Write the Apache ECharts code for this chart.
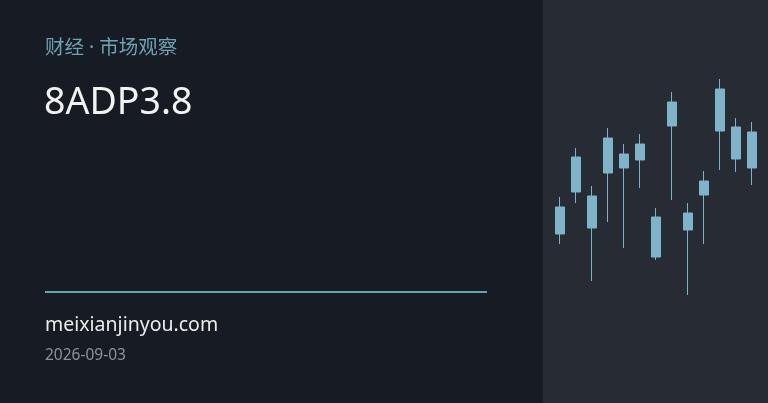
<!DOCTYPE html>
<html>
<head>
    <meta charset="utf-8">
    <title>8ADP3.8</title>
    <script src="https://cdn.jsdelivr.net/npm/echarts@6.0.0/dist/echarts.min.js"></script>
    <style>
        html, body { margin: 0; padding: 0; background: #171b23; }
        #chart { width: 768px; height: 403px; }
    </style>
</head>
<body>
<div id="chart"></div>
<script>
    // 13 根K线，颜色统一，数值单位为图上读取的相对价位
    var days = ['1', '2', '3', '4', '5', '6', '7', '8', '9', '10', '11', '12', '13'];
    var opens  = [76, 118, 82, 137, 142, 150, 53, 184, 80, 115, 179, 151, 142];
    var closes = [103, 153, 114, 172, 156, 166, 93, 208, 97, 129, 221, 183, 178];
    var lows   = [66, 107, 29, 88, 62, 122, 50, 110, 15, 66, 140, 138, 125];
    var highs  = [113, 162, 124, 182, 166, 176, 102, 218, 107, 139, 231, 192, 188];

    var kData = days.map(function (d, i) {
        return [opens[i], closes[i], lows[i], highs[i]];
    });

    var font = "'Noto Sans', 'Noto Sans CJK SC', sans-serif";
    var candleColor = '#7fb3c9';

    var chart = echarts.init(document.getElementById('chart'));

    var option = {
        backgroundColor: '#171b23',
        animation: false,
        graphic: [{
            type: 'rect',
            left: 543,
            top: 0,
            z: -10,
            shape: { width: 225, height: 403 },
            style: { fill: '#272b33' }
        }, {
            type: 'rect',
            left: 45,
            top: 291,
            shape: { width: 442, height: 2 },
            style: { fill: '#6aa2b0' }
        }],
        title: [{
            text: '财经 · 市场观察',
            left: 45,
            top: 39,
            padding: 0,
            textStyle: { color: '#6ea3b5', fontSize: 19.5, fontWeight: 'normal', fontFamily: font }
        }, {
            text: '8ADP3.8',
            left: 44,
            top: 85,
            padding: 0,
            textStyle: { color: '#f2f2f2', fontSize: 37.5, fontWeight: 'normal', fontFamily: font }
        }, {
            text: 'meixianjinyou.com',
            left: 45,
            top: 316,
            padding: 0,
            textStyle: { color: '#ececec', fontSize: 19.5, fontWeight: 'normal', fontFamily: font }
        }, {
            text: '2026-09-03',
            left: 45,
            top: 348,
            padding: 0,
            textStyle: { color: '#8d939b', fontSize: 15.5, fontWeight: 'normal', fontFamily: font }
        }],
        grid: {
            left: 552,
            right: 8,
            top: 70,
            bottom: 93
        },
        xAxis: {
            type: 'category',
            data: days,
            show: false
        },
        yAxis: {
            type: 'value',
            min: 0,
            max: 240,
            show: false,
            splitLine: { show: false }
        },
        series: [{
            type: 'candlestick',
            data: kData,
            barWidth: 10,
            itemStyle: {
                color: candleColor,
                color0: candleColor,
                borderColor: candleColor,
                borderColor0: candleColor,
                borderWidth: 1
            }
        }]
    };

    chart.setOption(option);
</script>
</body>
</html>
